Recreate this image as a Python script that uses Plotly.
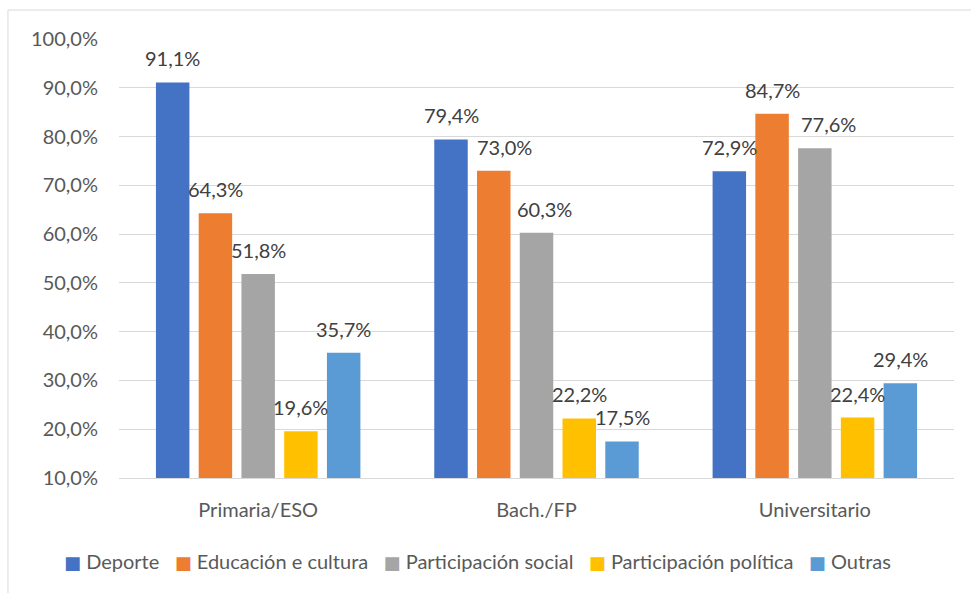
import plotly.graph_objects as go

categories = ["Primaria/ESO", "Bach./FP", "Universitario"]
series_names = ["Deporte", "Educación e cultura", "Participación social",
                "Participación política", "Outras"]
deporte = [91.1, 79.4, 72.9]
educacion = [64.3, 73.0, 84.7]
part_social = [51.8, 60.3, 77.6]
part_politica = [19.6, 22.2, 22.4]
outras = [35.7, 17.5, 29.4]
y_ticks = [10, 20, 30, 40, 50, 60, 70, 80, 90, 100]

values = [deporte, educacion, part_social, part_politica, outras]
colors = ["#4472C4", "#ED7D31", "#A5A5A5", "#FFC000", "#5B9BD5"]
# small horizontal nudges of a few data labels (as placed in the original)
label_nudge = {(1, 1): 11, (2, 1): 8, (2, 2): 14}

FONT = "Lato"
bargap = 0.232
bargroupgap = 0.217


def pct(v):
    return f"{v:.1f}".replace(".", ",") + "%"


fig = go.Figure()
for name, vals, col in zip(series_names, values, colors):
    fig.add_trace(go.Bar(
        x=categories, y=vals, name=name,
        marker=dict(color=col, line=dict(width=0)),
        hoverinfo="skip", showlegend=False,
    ))

n = len(series_names)
pitch = (1 - bargap) / n
annotations = []
for i, vals in enumerate(values):
    for j, v in enumerate(vals):
        annotations.append(dict(
            x=j + (i - (n - 1) / 2) * pitch, y=v, xref="x", yref="y",
            text=pct(v),
            showarrow=False, yanchor="middle", xanchor="center",
            yshift=24, xshift=label_nudge.get((i, j), 0),
            font=dict(family=FONT, size=20, color="#404040"),
        ))

# legend drawn as one centred line of text with coloured squares
sq = '<span style="font-family:DejaVu Sans;font-size:18px;fill:{c}">■</span>'
items = [sq.format(c=c) + "\u00a0" + nm for nm, c in zip(series_names, colors)]
legend_text = "\u00a0\u00a0\u00a0".join(items)
annotations.append(dict(
    x=0.429, y=-0.19, xref="paper", yref="paper", text=legend_text,
    showarrow=False, xanchor="center", yanchor="middle",
    font=dict(family=FONT, size=20, color="#595959"),
))

fig.update_layout(
    width=971, height=593,
    margin=dict(l=119, r=17, t=39, b=115, autoexpand=False),
    paper_bgcolor="white", plot_bgcolor="white",
    barmode="group", bargap=bargap, bargroupgap=bargroupgap,
    separators=",.",
    font=dict(family=FONT, size=20, color="#595959"),
    showlegend=False,
    annotations=annotations,
    shapes=[dict(type="rect", xref="paper", yref="paper",
                 x0=-0.133, x1=1.2, y0=-0.5, y1=1.066,
                 line=dict(color="#D9D9D9", width=1), fillcolor="rgba(0,0,0,0)",
                 layer="below")],
)
fig.update_yaxes(range=[10, 100], tickmode="array", tickvals=y_ticks,
                 ticktext=[pct(t) for t in y_ticks],
                 showgrid=True, gridcolor="#D9D9D9", gridwidth=1.3,
                 zeroline=False, showline=False, ticks="",
                 ticklabelstandoff=20, automargin=False,
                 tickfont=dict(family=FONT, size=20, color="#595959"))
fig.update_xaxes(showline=True, linecolor="#D9D9D9", linewidth=1.3, ticks="",
                 ticklabelstandoff=14, automargin=False,
                 tickfont=dict(family=FONT, size=20, color="#595959"))

fig.write_html("out.html", config={"displayModeBar": False},
               post_script="document.body.style.margin='0';")
